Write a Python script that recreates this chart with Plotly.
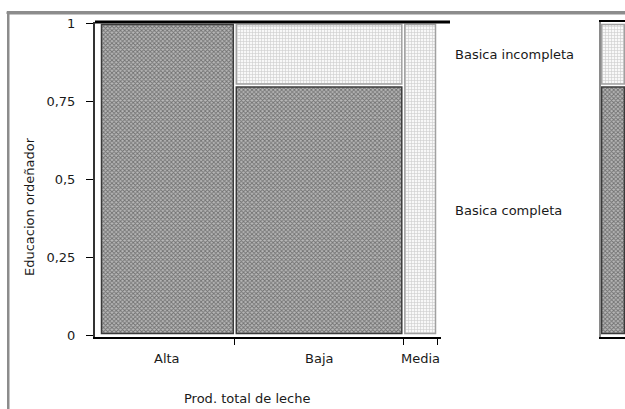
import plotly.graph_objects as go

categories = ["Alta", "Baja", "Media"]
levels = ["Basica completa", "Basica incompleta"]
count_completa = [8, 8, 0]
count_incompleta = [0, 2, 2]
ytick_vals = [0, 0.25, 0.5, 0.75, 1]
ytick_text = ["0", "0,25", "0,5", "0,75", "1"]

W, H = 625, 409
ML, MT, MB = 95, 22, 72
PW = W - ML
PH = H - MT - MB
X0PX, X1PX = 100, 437   # data 0 / 1 pixel positions
Y0PX, Y1PX = 335, 23
xppu = X1PX - X0PX
yppu = Y0PX - Y1PX
AX_RIGHT = 441

totals = [a + b for a, b in zip(count_completa, count_incompleta)]
N = sum(totals)
widths = [t / N for t in totals]
lefts = [sum(widths[:i]) for i in range(len(widths))]
centers = [l + w / 2 for l, w in zip(lefts, widths)]
p_comp = [c / t for c, t in zip(count_completa, totals)]
p_inc = [c / t for c, t in zip(count_incompleta, totals)]
overall_comp = sum(count_completa) / N

font = dict(family="DejaVu Sans", size=13, color="#1a1a1a")
gx = 3.0 / xppu
gy = 1.5 / yppu

dark = dict(color="#8a8a8a", line=dict(color="#3a3a3a", width=1.5),
            pattern=dict(shape="x", size=3, solidity=0.5, fgcolor="#2a2a2a", bgcolor="#b8b8b8"))
light = dict(color="#e8e8e8", line=dict(color="#a0a0a0", width=1.5),
             pattern=dict(shape="+", size=3, solidity=0.35, fgcolor="#a0a0a0", bgcolor="#f8f8f8"))

fig = go.Figure()

def cells(bases, heights):
    xs, ws, bs, ys = [], [], [], []
    for c, w, b, h in zip(centers, widths, bases, heights):
        if h <= 0:
            continue
        xs.append(c)
        ws.append(w - gx)
        bs.append(b + gy)
        ys.append(h - 2 * gy)
    return xs, ws, bs, ys

xs, ws, bs, ys = cells([0] * 3, p_comp)
fig.add_trace(go.Bar(x=xs, y=ys, base=bs, width=ws, marker=dark, name=levels[0],
                     xaxis="x", yaxis="y", showlegend=False))
xs, ws, bs, ys = cells(p_comp, p_inc)
fig.add_trace(go.Bar(x=xs, y=ys, base=bs, width=ws, marker=light, name=levels[1],
                     xaxis="x", yaxis="y", showlegend=False))

# marginal bar
fig.add_trace(go.Bar(x=[0.5], y=[overall_comp - 2 * gy], base=[gy], width=[0.95], marker=dark,
                     xaxis="x2", yaxis="y3", showlegend=False))
fig.add_trace(go.Bar(x=[0.5], y=[1 - overall_comp - 2 * gy], base=[overall_comp + gy], width=[0.95],
                     marker=light, xaxis="x2", yaxis="y3", showlegend=False))

yrange = [-(MT + PH - Y0PX) / yppu, 1 + (Y1PX - MT) / yppu]
xdom_end = (AX_RIGHT - ML) / PW
xrange = [-(X0PX - ML) / xppu, 1 + (AX_RIGHT - X1PX) / xppu]

boundaries = [l + w for l, w in zip(lefts, widths)]

fig.update_layout(
    width=W, height=H,
    margin=dict(l=ML, r=0, t=MT, b=MB),
    paper_bgcolor="white", plot_bgcolor="white",
    barmode="overlay", font=font, showlegend=False,
    xaxis=dict(domain=[0, xdom_end], range=xrange, showgrid=False, zeroline=False,
               showline=True, linecolor="black", linewidth=2,
               tickvals=boundaries, ticks="outside", ticklen=6, tickcolor="black",
               showticklabels=False, anchor="y"),
    yaxis=dict(range=yrange, showgrid=False, zeroline=False, showline=True,
               linecolor="#333333", linewidth=2, tickvals=ytick_vals, ticktext=ytick_text,
               ticks="outside", ticklen=7, tickcolor="black", ticklabelstandoff=8,
               tickfont=font, anchor="x"),
    yaxis2=dict(range=yrange, overlaying="y", side="right", anchor="x", showgrid=False,
                zeroline=False, showline=True, linecolor="black", linewidth=1,
                tickvals=[overall_comp], ticks="outside", ticklen=9, tickwidth=2,
                tickcolor="black", showticklabels=False),
    xaxis2=dict(domain=[(601 - ML) / PW, 1], range=[0, 1], showgrid=False, zeroline=False,
                showline=True, mirror=True, linecolor="black", linewidth=2,
                showticklabels=False, ticks="", anchor="y3"),
    yaxis3=dict(range=yrange, anchor="x2", showgrid=False, zeroline=False, showline=True,
                linecolor="#8a8a8a", linewidth=2, showticklabels=False, ticks=""),
)

# top black line (frame top)
fig.add_shape(type="line", xref="paper", yref="paper", x0=0, x1=(450 - ML) / PW, y0=1, y1=1,
              line=dict(color="black", width=3))
# outer gray border (top and left edges)
top_y0 = 1 + (MT - 14) / PH
top_y1 = 1 + (MT - 11.5) / PH
left_x0 = (7 - ML) / PW
left_x1 = (9.5 - ML) / PW
fig.add_shape(type="rect", xref="paper", yref="paper", x0=left_x0, x1=1.0, y0=top_y0, y1=top_y1,
              fillcolor="#8c8c8c", line=dict(color="#8c8c8c", width=1), layer="above")
fig.add_shape(type="rect", xref="paper", yref="paper", x0=left_x0, x1=left_x1, y0=-0.3, y1=top_y1,
              fillcolor="#8c8c8c", line=dict(width=0), layer="above")

for cat, c in zip(categories, centers):
    fig.add_annotation(x=c, xref="x", y=(MT + PH - 358) / PH, yref="paper", text=cat,
                       showarrow=False, font=font, xanchor="center", yanchor="middle")

fig.add_annotation(x=(247 - ML) / PW, xref="paper", y=(MT + PH - 398) / PH, yref="paper",
                   text="Prod. total de leche", showarrow=False, font=font,
                   xanchor="center", yanchor="middle")
fig.add_annotation(x=(29 - ML) / PW, xref="paper", y=(MT + PH - 207) / PH, yref="paper",
                   text="Educacion ordeñador", textangle=-90, showarrow=False, font=font,
                   xanchor="center", yanchor="middle")

fig.add_annotation(x=(453 - ML) / PW, xref="paper", y=(1 + overall_comp) / 2, yref="y",
                   text=levels[1], showarrow=False, font=font, xanchor="left", yanchor="middle")
fig.add_annotation(x=(453 - ML) / PW, xref="paper", y=overall_comp / 2, yref="y",
                   text=levels[0], showarrow=False, font=font, xanchor="left", yanchor="middle")

fig.write_html("out.html")
